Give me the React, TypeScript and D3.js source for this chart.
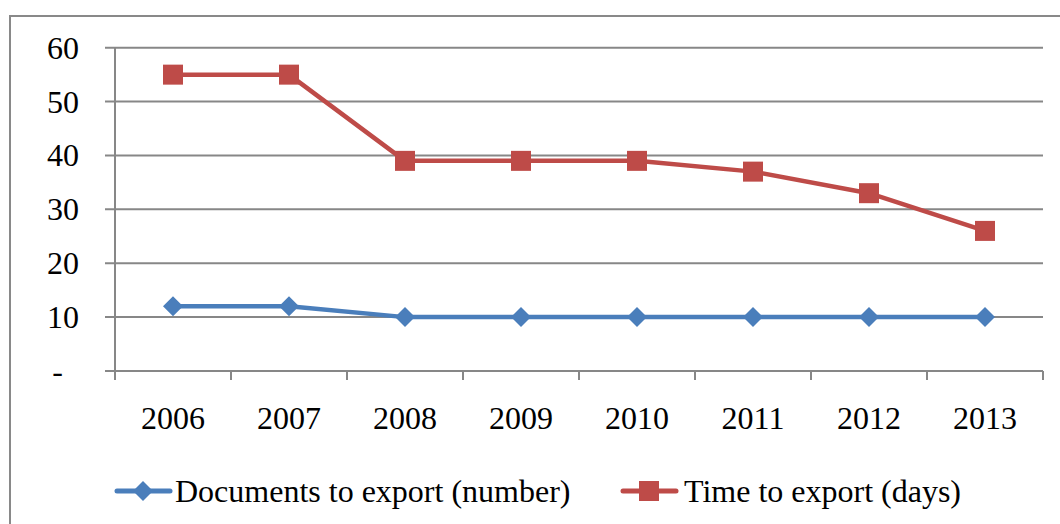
import React from "react";
import * as d3 from "d3";

const years = ["2006", "2007", "2008", "2009", "2010", "2011", "2012", "2013"];
const documentsToExport = [12, 12, 10, 10, 10, 10, 10, 10];
const timeToExport = [55, 55, 39, 39, 39, 37, 33, 26];
const yTicks = [0, 10, 20, 30, 40, 50, 60];
const seriesNames = ["Documents to export (number)", "Time to export (days)"];

const W = 1060;
const H = 524;
const left = 115;
const right = 1043;
const top = 47.7;
const bottom = 371;
const BLUE = "#4a7ebb";
const RED = "#be4b48";
const GRID = "#878787";
const FONT = "Times New Roman, Liberation Serif, Tinos, DejaVu Serif, serif";

export default function App() {
  const x = d3.scaleBand<string>().domain(years).range([left, right]);
  const y = d3.scaleLinear().domain([0, 60]).range([bottom, top]);
  const cx = (d: string) => (x(d) as number) + x.bandwidth() / 2;
  const line = d3
    .line<number>()
    .x((_, i) => cx(years[i]))
    .y((v) => y(v));
  const diamond = (px: number, py: number, r: number) =>
    `M${px},${py - r}L${px + r},${py}L${px},${py + r}L${px - r},${py}Z`;
  const sq = 10;

  return (
    <div style={{ position: "absolute", left: 0, top: 0, fontFamily: FONT }}>
      <svg width={W} height={H} style={{ display: "block", background: "#fff" }}>
        <rect x={10} y={16} width={1070} height={530} fill="#fff" stroke="#898989" strokeWidth={2} />
        <g fontFamily={FONT} fontSize={32} fill="#000">
          {yTicks.map((t) => (
            <g key={t}>
              <line x1={105} x2={right} y1={y(t)} y2={y(t)} stroke={GRID} strokeWidth={2} />
              <text x={t === 0 ? 63 : 79} y={y(t) + 11} textAnchor="end">
                {t === 0 ? "-" : t}
              </text>
            </g>
          ))}
          <line x1={left} x2={left} y1={top} y2={bottom + 9} stroke={GRID} strokeWidth={2} />
          {years.map((yr) => (
            <line
              key={"t" + yr}
              x1={(x(yr) as number) + x.bandwidth()}
              x2={(x(yr) as number) + x.bandwidth()}
              y1={bottom}
              y2={bottom + 9}
              stroke={GRID}
              strokeWidth={2}
            />
          ))}
          {years.map((yr) => (
            <text key={"l" + yr} x={cx(yr)} y={429} textAnchor="middle">
              {yr}
            </text>
          ))}
          <path d={line(documentsToExport) || ""} fill="none" stroke={BLUE} strokeWidth={4.5} strokeLinejoin="round" />
          {documentsToExport.map((v, i) => (
            <path key={"d" + i} d={diamond(cx(years[i]), y(v), 10)} fill={BLUE} />
          ))}
          <path d={line(timeToExport) || ""} fill="none" stroke={RED} strokeWidth={4.5} strokeLinejoin="round" />
          {timeToExport.map((v, i) => (
            <rect key={"r" + i} x={cx(years[i]) - sq} y={y(v) - sq} width={sq * 2} height={sq * 2} fill={RED} />
          ))}
          <line x1={117} x2={170} y1={491} y2={491} stroke={BLUE} strokeWidth={5} strokeLinecap="round" />
          <path d={diamond(143, 491, 10)} fill={BLUE} />
          <text x={175} y={502}>{seriesNames[0]}</text>
          <line x1={623} x2={676} y1={491} y2={491} stroke={RED} strokeWidth={5} strokeLinecap="round" />
          <rect x={649 - sq} y={491 - sq} width={sq * 2} height={sq * 2} fill={RED} />
          <text x={684} y={502}>{seriesNames[1]}</text>
        </g>
      </svg>
    </div>
  );
}
